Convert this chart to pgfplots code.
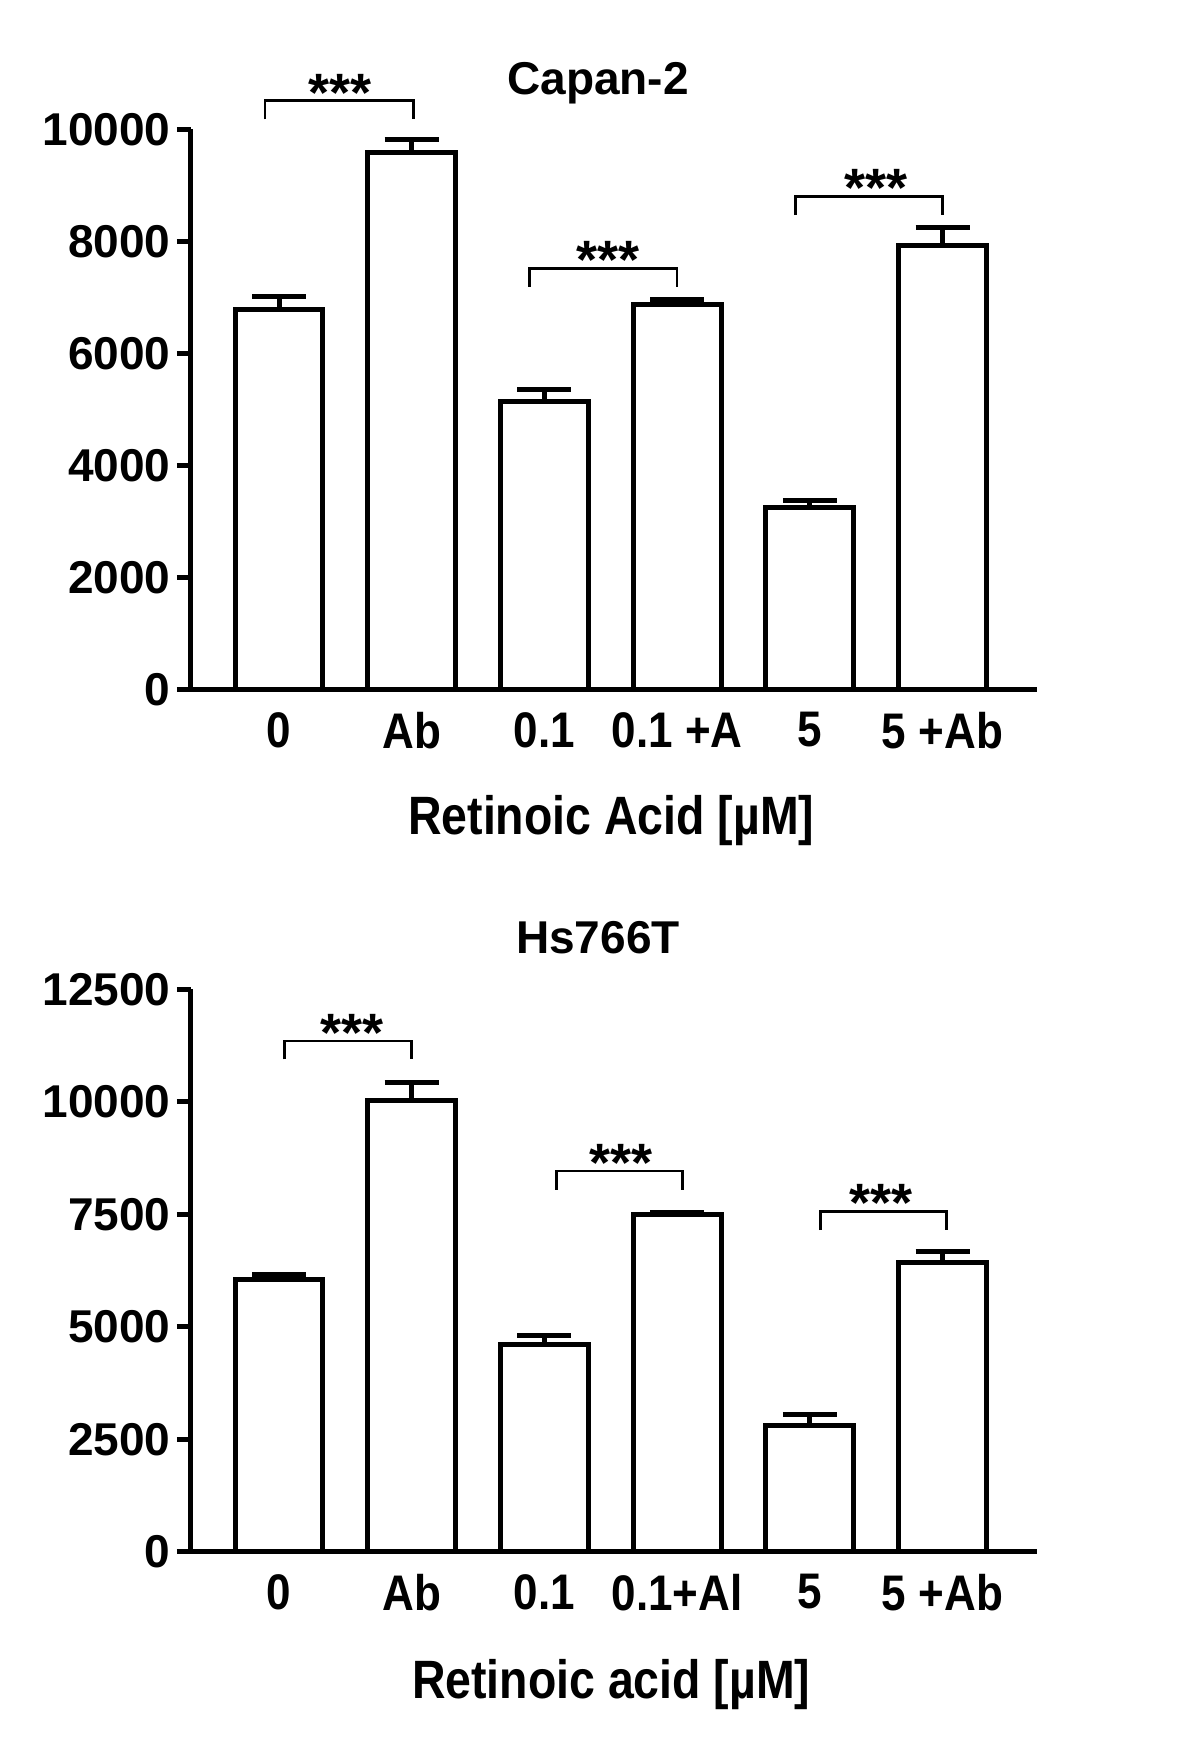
\documentclass[border=0pt]{standalone}
\usepackage{graphicx}
\usepackage{fontspec}
\setmainfont{Liberation Sans}
\usepackage{pgfplots}
\pgfplotsset{compat=1.18}
\newcommand{\nar}[1]{\scalebox{0.88}[1]{#1}}
\newcommand{\stars}{\fontsize{27}{27}\selectfont\bfseries ***}

\pgfplotstableread{
x y e
0 6780 240
1 9580 240
2 5140 220
3 6880 80
4 3260 120
5 7920 320
}\capan

\pgfplotstableread{
x y e
0 6040 125
1 10030 400
2 4616 200
3 7485 50
4 2794 250
5 6437 225
}\hs

\tikzset{br/.style={line width=1.35pt, black},
  st/.style={anchor=base, inner sep=0pt, yshift=-5.2pt}}
\pgfplotsset{
 myax/.style={
  scale only axis, width=423.1pt,
  xmin=-0.667, xmax=5.71, ymin=0,
  axis x line=bottom, axis y line=left,
  axis line style={line width=2.5pt, -},
  xtick={0,1,2,3,4,5},
  xtick style={draw=none},
  ytick style={line width=2.5pt, black},
  tick align=outside, major tick length=6.75pt,
  scaled y ticks=false,
  yticklabel style={font=\fontsize{23}{23}\selectfont\bfseries, xshift=0.3pt},
  xticklabel style={font=\fontsize{25}{25}\selectfont\bfseries, yshift=-1pt},
  clip=false,
  ybar, bar width=43.9pt, bar shift=0pt,
  error bars/y dir=plus, error bars/y explicit,
  error bars/error bar style={line width=2.5pt, black},
  error bars/error mark options={rotate=90, mark size=13.5pt, line width=2.5pt, black},
 },
}

\begin{document}
\begin{tikzpicture}
\useasboundingbox (0,0) rectangle (600pt,879.5pt);

% ---------- Capan-2 ----------
\begin{axis}[myax, at={(95.25pt,534.5pt)}, anchor=south west,
  height=280.35pt, ymax=10000,
  ytick={0,2000,4000,6000,8000,10000},
  yticklabels={0,2000,4000,6000,8000,10000},
  xticklabels={\nar{0},\nar{Ab},\nar{0.1},\nar{0.1 +A},\nar{5},\nar{5 +Ab}}]
\addplot[fill=white, draw=black, line width=2.5pt] table[x=x, y=y, y error=e] {\capan};
\draw[br] (axis cs:-0.105,10178) -- (axis cs:-0.105,10510) -- (axis cs:1.012,10510) -- (axis cs:1.012,10178);
\draw[br] (axis cs:1.89,7190) -- (axis cs:1.89,7520) -- (axis cs:3.0,7520) -- (axis cs:3.0,7190);
\draw[br] (axis cs:3.89,8470) -- (axis cs:3.89,8800) -- (axis cs:5.0,8800) -- (axis cs:5.0,8470);
\node[st] at (axis cs:0.46,10510) {\stars};
\node[st] at (axis cs:2.48,7520) {\stars};
\node[st] at (axis cs:4.5,8800) {\stars};
\end{axis}

% ---------- Hs766T ----------
\begin{axis}[myax, at={(95.25pt,103.65pt)}, anchor=south west,
  height=281.2pt, ymax=12500,
  ytick={0,2500,5000,7500,10000,12500},
  yticklabels={0,2500,5000,7500,10000,12500},
  xticklabels={\nar{0},\nar{Ab},\nar{0.1},\nar{0.1+Al},\nar{5},\nar{5 +Ab}}]
\addplot[fill=white, draw=black, line width=2.5pt] table[x=x, y=y, y error=e] {\hs};
\draw[br] (axis cs:0.04,10940) -- (axis cs:0.04,11352) -- (axis cs:1.0,11352) -- (axis cs:1.0,10940);
\draw[br] (axis cs:2.09,8046) -- (axis cs:2.09,8458) -- (axis cs:3.04,8458) -- (axis cs:3.04,8046);
\draw[br] (axis cs:4.08,7148) -- (axis cs:4.08,7560) -- (axis cs:5.03,7560) -- (axis cs:5.03,7148);
\node[st] at (axis cs:0.55,11352) {\stars};
\node[st] at (axis cs:2.58,8458) {\stars};
\node[st] at (axis cs:4.54,7560) {\stars};
\end{axis}

% titles and axis labels
\node[font=\fontsize{23}{23}\selectfont\bfseries] at (299pt,838pt) {Capan-2};
\node[font=\fontsize{23}{23}\selectfont\bfseries] at (299pt,410.7pt) {Hs766T};
\node[font=\fontsize{27}{27}\selectfont\bfseries] at (305.6pt,469pt) {\scalebox{0.86}[1]{Retinoic Acid [µM]}};
\node[font=\fontsize{27}{27}\selectfont\bfseries] at (305.6pt,37pt) {\scalebox{0.86}[1]{Retinoic acid [µM]}};
\end{tikzpicture}
\end{document}
